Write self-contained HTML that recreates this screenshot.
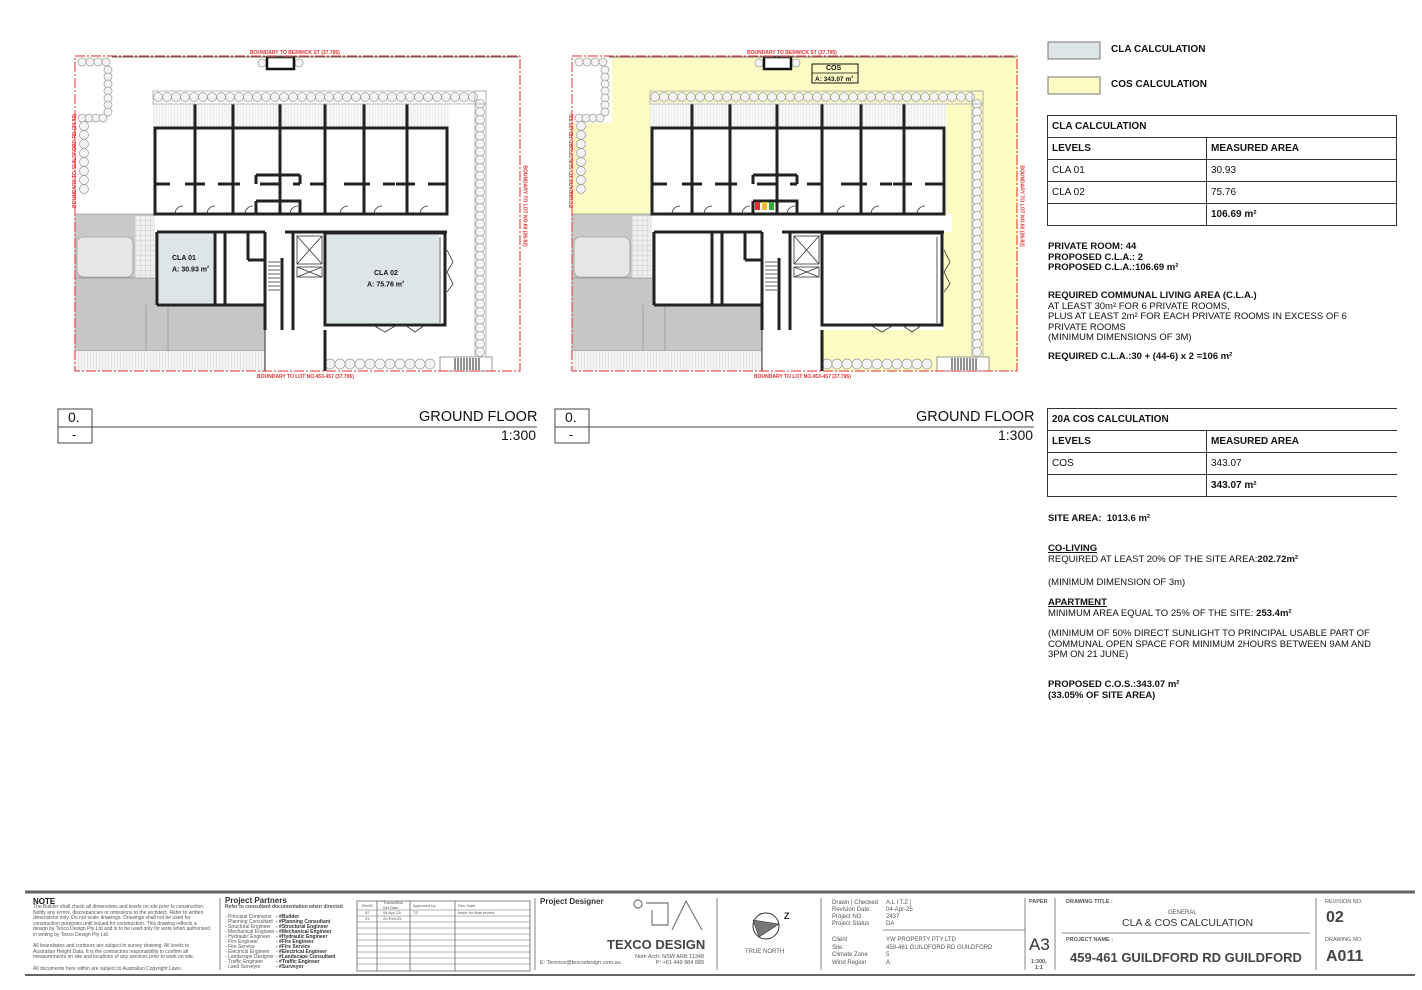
<!DOCTYPE html>
<html><head><meta charset="utf-8">
<style>
body{margin:0;width:1422px;height:990px;background:#fff;position:relative;overflow:hidden;font-family:"Liberation Sans",sans-serif;color:#111}
.t{position:absolute;white-space:nowrap}
.b{font-weight:bold}
table{border-collapse:collapse;position:absolute;font-size:10px}
td{border:1px solid #333;padding:0 4px;height:21px}
.tb{position:absolute;font-size:5px;line-height:5.6px;color:#555}
sup{font-size:6px}
</style></head><body>
<svg width="1422" height="990" style="position:absolute;left:0;top:0">
<defs>
<pattern id="hatch" width="3" height="3" patternUnits="userSpaceOnUse"><rect width="3" height="3" fill="#f4f4f4"/><line x1="0" y1="0" x2="0" y2="3" stroke="#bbb" stroke-width="0.6"/></pattern>
<pattern id="grid" width="5" height="5" patternUnits="userSpaceOnUse"><rect width="5" height="5" fill="#eee"/><path d="M0 0H5M0 0V5" stroke="#bbb" stroke-width="0.6"/></pattern>
<g id="plan">
 <g id="trees"></g>
 <rect x="267" y="57" width="27" height="12" fill="#fff" stroke="#111" stroke-width="2.5"/>
 <rect x="75" y="214" width="82" height="64" fill="#c9c9c9" stroke="#888" stroke-width="0.6"/>
 <rect x="77" y="237" width="56" height="40" rx="6" fill="#e4e7e4" stroke="#888" stroke-width="0.6"/>
 <rect x="135" y="216" width="22" height="62" fill="url(#grid)"/>
 <rect x="75" y="278" width="190" height="73" fill="#c6c6c6" stroke="#888" stroke-width="0.6"/>
 <line x1="146" y1="305" x2="146" y2="351" stroke="#888" stroke-width="0.6"/>
 <line x1="168" y1="305" x2="168" y2="351" stroke="#888" stroke-width="0.6"/>
 <line x1="157" y1="305" x2="265" y2="305" stroke="#888" stroke-width="0.6"/>
 <rect x="73" y="351" width="192" height="20" fill="url(#hatch)"/>
 <rect x="153" y="103" width="296" height="111" fill="#fff"/>
 <rect x="153" y="104" width="296" height="24" fill="url(#hatch)" opacity="0.7"/>
 <rect x="155" y="214" width="300" height="18" fill="#fff"/>
 <rect x="157" y="232" width="108" height="73" fill="#fff"/>
 <rect x="265" y="232" width="182" height="98" fill="#fff"/>
 <rect x="265" y="232" width="60" height="139" fill="#fff"/>
 <line x1="265" y1="330" x2="265" y2="371" stroke="#333" stroke-width="1"/>
 <line x1="325" y1="330" x2="325" y2="371" stroke="#333" stroke-width="1"/>
 <g stroke="#222" stroke-width="3" fill="none">
  <rect x="155" y="128" width="292" height="86"/>
  <path d="M195 104V214M233 104V214M280 104V214M325 104V214M364 104V214M407 104V214"/>
  <path d="M155 184H170M185 184H205M218 184H240M260 184H280M293 184H300M310 184H325M344 184H370M383 184H395M396 184H415M428 184H447"/>
  <path d="M256 175H279M280 175H300M256 175V184M300 175V184M256 201H300V214M256 201V214"/>
  <path d="M157 232H265M285 232H447M157 232V305M157 305H265M215 232V305M225 232V305"/>
  <path d="M248 232V260M248 260H265M265 232V330M282 258V330M293 232V330M325 233V325"/>
  <rect x="325" y="233" width="120" height="92"/>
  <path d="M325 330V371"/>
 </g>
 <g stroke="#333" stroke-width="0.8" fill="none">
  <rect x="297" y="236" width="25" height="28"/><path d="M297 236L322 264M322 236L297 264"/>
  <rect x="297" y="267" width="25" height="10"/><path d="M297 267L322 277M322 267L297 277"/>
  <path d="M268 262H280M268 266H280M268 270H280M268 274H280M268 278H280M268 282H280M268 286H280M268 290H280"/>
  <path d="M440 237V323M447 250L453 262L447 272L453 284L447 292"/>
  <path d="M373 325L385 332L397 325M405 325L415 332L425 325"/>
  <path d="M175 214A8 8 0 0 1 183 206M207 214A8 8 0 0 1 215 206M245 214A8 8 0 0 1 253 206M290 214A8 8 0 0 1 298 206M340 214A8 8 0 0 1 348 206M374 214A8 8 0 0 1 382 206M420 214A8 8 0 0 1 428 206"/>
 </g>
 <rect x="440" y="357" width="52" height="14" fill="#fff" stroke="#555" stroke-width="0.6"/>
 <path d="M455 358V370M458 358V370M461 358V370M464 358V370M467 358V370M470 358V370M473 358V370M476 358V370M479 358V370" stroke="#222" stroke-width="1"/>
 <path d="M112 57H519" stroke="#666" stroke-width="1"/>
 <rect x="75" y="56" width="445" height="315" fill="none" stroke="#e03030" stroke-width="1" stroke-dasharray="10 2 2 2"/>
 <rect x="153" y="91" width="333" height="13" fill="none" stroke="#aaa" stroke-width="0.8"/>
 <rect x="475" y="91" width="11" height="266" fill="none" stroke="#aaa" stroke-width="0.8"/>
</g>
</defs>

<rect x="572" y="57" width="446" height="314" fill="#fdfbc4"/>
<rect x="572" y="57" width="40" height="66" fill="#fff"/>
<use href="#plan"/>
<use href="#plan" transform="translate(497,0)"/>
<rect x="159" y="234" width="54" height="69" fill="#dde5e9"/>
<rect x="327" y="235" width="112" height="88" fill="#dde5e9"/>
<rect x="812" y="64" width="46" height="19" fill="#fdfbc4" stroke="#111" stroke-width="1"/>
<line x1="812" y1="73" x2="858" y2="73" stroke="#111" stroke-width="0.8"/>
<rect x="755" y="202" width="5" height="8" fill="#d33"/><rect x="762" y="202" width="5" height="8" fill="#eb3"/><rect x="769" y="202" width="5" height="8" fill="#3a3"/>

<g stroke="#444" stroke-width="1" fill="none">
<rect x="58" y="409" width="34" height="34"/><line x1="58" y1="427" x2="537" y2="427"/>
<rect x="555" y="409" width="34" height="34"/><line x1="555" y1="427" x2="1034" y2="427"/>
</g>
<rect x="1048" y="42" width="52" height="17" fill="#dde5e9" stroke="#777"/>
<rect x="1048" y="77" width="52" height="17" fill="#fdfbc4" stroke="#777"/>
<g stroke="#666">
<line x1="25" y1="892" x2="1415" y2="892" stroke-width="3"/>
<line x1="25" y1="975" x2="1415" y2="975" stroke-width="2"/>
<g stroke-width="0.8"><line x1="220" y1="898" x2="220" y2="970"/><line x1="535" y1="898" x2="535" y2="970"/><line x1="717" y1="898" x2="717" y2="970"/><line x1="821" y1="898" x2="821" y2="970"/><line x1="1025" y1="898" x2="1025" y2="970"/><line x1="1055" y1="898" x2="1055" y2="970"/><line x1="1316" y1="898" x2="1316" y2="970"/>
<line x1="883" y1="930" x2="1025" y2="930"/><line x1="1062" y1="933" x2="1310" y2="933"/>
<rect x="357" y="901" width="173" height="70" fill="none"/>
<line x1="377" y1="901" x2="377" y2="971"/><line x1="410" y1="901" x2="410" y2="971"/><line x1="455" y1="901" x2="455" y2="971"/>
</g>
<path d="M357 910H530M357 916H530M357 922H530M357 928H530M357 934H530M357 940H530M357 946H530M357 952H530M357 958H530M357 964H530" stroke-width="0.5"/>
</g>
<g fill="none" stroke="#777" stroke-width="1.2">
<circle cx="638" cy="904" r="4"/><path d="M646 903H668V925H652V910"/><path d="M672 930L686 901L702 930"/>
</g>
<circle cx="766" cy="926" r="13" fill="#fff" stroke="#333"/>
<path d="M753 920L779 924L759 937Z" fill="#777" stroke="#333" stroke-width="0.6"/>
</svg>

<div class="t b" style="left:172px;top:255px;font-size:7px">CLA 01</div>
<div class="t b" style="left:172px;top:264px;font-size:7px">A: 30.93 m<sup style="font-size:4px">2</sup></div>
<div class="t b" style="left:374px;top:270px;font-size:7px">CLA 02</div>
<div class="t b" style="left:367px;top:279px;font-size:7px">A: 75.76 m<sup style="font-size:4px">2</sup></div>
<div class="t b" style="left:826px;top:65px;font-size:7px">COS</div>
<div class="t b" style="left:815px;top:74px;font-size:6.5px">A: 343.07 m<sup style="font-size:4px">2</sup></div>
<div class="t b" style="left:250px;top:50px;font-size:5px;color:#e03030">BOUNDARY TO BERWICK ST (37.795)</div>
<div class="t b" style="left:747px;top:50px;font-size:5px;color:#e03030">BOUNDARY TO BERWICK ST (37.795)</div>
<div class="t b" style="left:257px;top:374px;font-size:5px;color:#e03030">BOUNDARY TO LOT NO.453-457 (37.795)</div>
<div class="t b" style="left:754px;top:374px;font-size:5px;color:#e03030">BOUNDARY TO LOT NO.453-457 (37.795)</div>
<div class="t b" style="left:28px;top:158px;font-size:5px;color:#e03030;transform:rotate(-90deg)">BOUNDARY TO GUILDFORD RD (26.82)</div>
<div class="t b" style="left:525px;top:158px;font-size:5px;color:#e03030;transform:rotate(-90deg)">BOUNDARY TO GUILDFORD RD (26.82)</div>
<div class="t b" style="left:484px;top:203px;font-size:5px;color:#e03030;transform:rotate(90deg)">BOUNDARY TO LOT NO.60 (26.82)</div>
<div class="t b" style="left:981px;top:203px;font-size:5px;color:#e03030;transform:rotate(90deg)">BOUNDARY TO LOT NO.60 (26.82)</div>

<div class="t" style="left:68px;top:409px;font-size:14px">0.</div>
<div class="t" style="left:72px;top:427px;font-size:13px">-</div>
<div class="t" style="left:419px;top:409px;font-size:14.5px">GROUND FLOOR</div>
<div class="t" style="left:501px;top:427px;font-size:14px">1:300</div>
<div class="t" style="left:565px;top:409px;font-size:14px">0.</div>
<div class="t" style="left:569px;top:427px;font-size:13px">-</div>
<div class="t" style="left:916px;top:409px;font-size:14.5px">GROUND FLOOR</div>
<div class="t" style="left:998px;top:427px;font-size:14px">1:300</div>

<div class="t b" style="left:1111px;top:44px;font-size:10px">CLA CALCULATION</div>
<div class="t b" style="left:1111px;top:79px;font-size:10px">COS CALCULATION</div>
<table style="left:1047px;top:115px;width:350px">
<tr><td colspan="2" class="b">CLA CALCULATION</td></tr>
<tr><td class="b" style="width:150px">LEVELS</td><td class="b">MEASURED AREA</td></tr>
<tr><td>CLA 01</td><td>30.93</td></tr>
<tr><td>CLA 02</td><td>75.76</td></tr>
<tr><td></td><td class="b">106.69 m²</td></tr>
</table>
<div class="t b" style="left:1048px;top:242px;font-size:9.5px;line-height:10.5px">PRIVATE ROOM: 44<br>PROPOSED C.L.A.: 2<br>PROPOSED C.L.A.:106.69 m²</div>
<div class="t" style="left:1048px;top:291px;font-size:9.5px;line-height:10.5px"><b>REQUIRED COMMUNAL LIVING AREA (C.L.A.)</b><br>AT LEAST 30m² FOR 6 PRIVATE ROOMS,<br>PLUS AT LEAST 2m² FOR EACH PRIVATE ROOMS IN EXCESS OF 6<br>PRIVATE ROOMS<br>(MINIMUM DIMENSIONS OF 3M)</div>
<div class="t b" style="left:1048px;top:351px;font-size:9.5px">REQUIRED C.L.A.:30 + (44-6) x 2 =106 m²</div>
<table style="left:1047px;top:408px;width:350px;border-right:0">
<tr><td colspan="2" class="b" style="border-right:0">20A COS CALCULATION</td></tr>
<tr><td class="b" style="width:150px">LEVELS</td><td class="b" style="border-right:0">MEASURED AREA</td></tr>
<tr><td>COS</td><td style="border-right:0">343.07</td></tr>
<tr><td></td><td class="b" style="border-right:0">343.07 m²</td></tr>
</table>
<div class="t b" style="left:1048px;top:513px;font-size:9.5px">SITE AREA:&nbsp; 1013.6 m²</div>
<div class="t" style="left:1048px;top:544px;font-size:9.5px;line-height:10.5px"><b><u>CO-LIVING</u></b><br>REQUIRED AT LEAST 20% OF THE SITE AREA:<b>202.72m²</b></div>
<div class="t" style="left:1048px;top:577px;font-size:9.5px">(MINIMUM DIMENSION OF 3m)</div>
<div class="t" style="left:1048px;top:598px;font-size:9.5px;line-height:10.5px"><b><u>APARTMENT</u></b><br>MINIMUM AREA EQUAL TO 25% OF THE SITE: <b>253.4m²</b></div>
<div class="t" style="left:1048px;top:629px;font-size:9.5px;line-height:10.5px">(MINIMUM OF 50% DIRECT SUNLIGHT TO PRINCIPAL USABLE PART OF<br>COMMUNAL OPEN SPACE FOR MINIMUM 2HOURS BETWEEN 9AM AND<br>3PM ON 21 JUNE)</div>
<div class="t b" style="left:1048px;top:680px;font-size:9.5px;line-height:10.5px">PROPOSED C.O.S.:343.07 m²<br>(33.05% OF SITE AREA)</div>

<div class="t b" style="left:33px;top:897px;font-size:8px">NOTE</div>
<div class="tb" style="left:33px;top:905px;width:178px;white-space:normal">The Builder shall check all dimensions and levels on site prior to construction. Notify any errors, discrepancies or omissions to the architect. Refer to written dimensions only. Do not scale drawings. Drawings shall not be used for construction purposes until issued for construction. This drawing reflects a design by Texco Design Pty Ltd and is to be used only for work when authorised in writing by Texco Design Pty Ltd.<br><br>All boundaries and contours are subject to survey drawing. All levels to Australian Height Data. It is the contractors responsibility to confirm all measurements on site and locations of any services prior to work on site.<br><br>All documents here within are subject to Australian Copyright Laws.</div>
<div class="t b" style="left:225px;top:896px;font-size:8px;color:#333">Project Partners</div>
<div class="tb" style="left:225px;top:905px;font-weight:bold">Refer to consultant documentation when directed</div>
<div class="tb" style="left:225px;top:915px;line-height:5px">- Principal Contractor<br>- Planning Consultant<br>- Structural Engineer<br>- Mechanical Engineer<br>- Hydraulic Engineer<br>- Fire Engineer<br>- Fire Service<br>- Electrical Engineer<br>- Landscape Designer<br>- Traffic Engineer<br>- Land Surveyor</div>
<div class="tb b" style="left:276px;top:915px;line-height:5px;color:#333">- #Builder<br>- #Planning Consultant<br>- #Structural Engineer<br>- #Mechanical Engineer<br>- #Hydraulic Engineer<br>- #Fire Engineer<br>- #Fire Service<br>- #Electrical Engineer<br>- #Landscape Consultant<br>- #Traffic Engineer<br>- #Surveyor</div>
<div class="tb" style="left:362px;top:903px;font-size:4px">RevID</div>
<div class="tb" style="left:383px;top:901px;font-size:4px;line-height:4.5px">Transmittal<br>Set Date</div>
<div class="tb" style="left:413px;top:903px;font-size:4px">Approved by</div>
<div class="tb" style="left:458px;top:903px;font-size:4px">Rev. Note</div>
<div class="tb" style="left:365px;top:910px;font-size:4px">02<br>01</div>
<div class="tb" style="left:383px;top:910px;font-size:4px">04-Apr-25<br>20-Feb-25</div>
<div class="tb" style="left:413px;top:910px;font-size:4px">TZ</div>
<div class="tb" style="left:458px;top:910px;font-size:4px">Issue for final review</div>
<div class="t b" style="left:540px;top:897px;font-size:8px;color:#333">Project Designer</div>
<div class="t b" style="left:607px;top:937px;font-size:13px;color:#444">TEXCO DESIGN</div>
<div class="tb" style="left:631px;top:955px;font-size:5.5px;text-align:right;width:73px">Nom Arch: NSW ARB 11348<br>P: +61 449 984 889</div>
<div class="tb" style="left:540px;top:961px;font-size:5.5px">E: Terence@texcodesign.com.au</div>
<div class="tb" style="left:784px;top:914px;font-size:9px;color:#222;font-weight:bold">Z</div>
<div class="tb" style="left:745px;top:950px;font-size:6px">TRUE NORTH</div>
<div class="tb" style="left:832px;top:900px;font-size:6px;line-height:7px">Drawn | Checked<br>Revision Date:<br>Project NO.<br>Project Status</div>
<div class="tb" style="left:886px;top:900px;font-size:6px;line-height:7px">A.L I T.Z |<br>04-Apr-25<br>2437<br>DA</div>
<div class="tb" style="left:832px;top:937px;font-size:6px;line-height:7.5px">Client<br>Site:<br>Climate Zone<br>Wind Region</div>
<div class="tb" style="left:886px;top:937px;font-size:6px;line-height:7.5px">YW PROPERTY PTY LTD<br>459-461 GUILDFORD RD GUILDFORD<br>5<br>A</div>
<div class="tb b" style="left:1029px;top:900px;font-size:5.5px">PAPER</div>
<div class="t" style="left:1029px;top:935px;font-size:17px;color:#333">A3</div>
<div class="tb b" style="left:1031px;top:960px;font-size:5.5px;text-align:center">1:300,<br>1:1</div>
<div class="tb b" style="left:1066px;top:900px;font-size:5.5px">DRAWING TITLE :</div>
<div class="tb" style="left:1168px;top:911px;font-size:6px">GENERAL</div>
<div class="t" style="left:1122px;top:917px;font-size:10.5px;color:#333">CLA &amp; COS CALCULATION</div>
<div class="tb b" style="left:1066px;top:938px;font-size:5.5px">PROJECT NAME :</div>
<div class="t b" style="left:1070px;top:950px;font-size:13px;color:#444">459-461 GUILDFORD RD GUILDFORD</div>
<div class="tb" style="left:1325px;top:900px;font-size:5.5px">REVISION NO.</div>
<div class="t b" style="left:1326px;top:909px;font-size:16px;color:#444">02</div>
<div class="tb" style="left:1325px;top:938px;font-size:5.5px">DRAWING NO.</div>
<div class="t b" style="left:1326px;top:948px;font-size:16px;color:#444">A011</div>

<script>
var ns="http://www.w3.org/2000/svg",g=document.getElementById("trees");
function c(x,y,r){var e=document.createElementNS(ns,"circle");e.setAttribute("cx",x);e.setAttribute("cy",y);e.setAttribute("r",r||4);e.setAttribute("fill","#f4f4f4");e.setAttribute("stroke","#999");e.setAttribute("stroke-width","0.7");g.appendChild(e);}
function row(x1,x2,y,s,r){for(var x=x1;x<=x2;x+=s)c(x,y,r);}
function col(x,y1,y2,s,r){for(var y=y1;y<=y2;y+=s)c(x,y,r);}
row(82,108,62,8);col(108,70,118,7);row(82,104,118,7);col(84,126,196,9,4.5);
row(158,480,97,9,4.5);col(480,104,352,8,4.5);row(330,435,364,10,5);
c(262,63,4);c(299,63,4);
row(84,128,248,10,5);row(84,128,268,10,5);
</script>
</body></html>
